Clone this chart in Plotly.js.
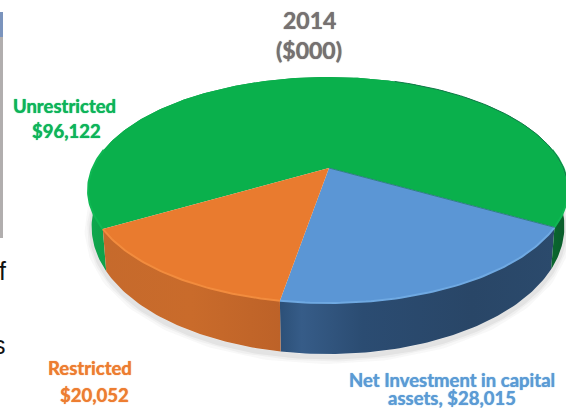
<!DOCTYPE html>
<html><head><meta charset="utf-8">
<script src="https://cdn.plot.ly/plotly-3.0.1.min.js"></script>
<style>html,body{margin:0;padding:0;background:#fff;overflow:hidden}</style>
</head><body><div id="chart" style="width:566px;height:408px"></div>
<script>
// Data
const categories = ["Net Investment in capital assets", "Unrestricted", "Restricted"];
const values = [28015, 96122, 20052];
const titleLines = ["2014", "($000)"];
// Styling
const topColors = ["#5b96d5", "#0ab04c", "#e97b2f"];
const bevelColors = ["#6fa9e2", "#0fb853", "#f28c3e"];
const labelColors = ["#5b9bd5", "#0db45a", "#ed7d31"];
const rimScales = [
  [[0,"#2c5078"],[0.08,"#365c88"],[0.3,"#2b4c72"],[0.7,"#294667"],[1,"#2b4a6c"]],
  [[0,"#10a84e"],[0.04,"#0da049"],[0.9,"#0b8a3e"],[0.96,"#0a6a30"],[1,"#0a5a2a"]],
  [[0,"#c66a2c"],[0.5,"#c96b2b"],[1,"#bd6228"]]
];
const startDeg = -9.5;

// Perspective view of the pie disc
const C = -0.1947, APEX_X = 328, APEX_Y = 168, R = 235.4, A = 76;
function topPt(th){const x=Math.sin(th),y=Math.cos(th),w=1+C*y;return [APEX_X+R*x/w,(A*y+APEX_Y)/w,y];}
function bottomPt(th){const p=topPt(th);return [APEX_X+(p[0]-APEX_X)*0.985,p[1]+33+18*p[2]];}
function arc(fn,a,b){const n=Math.max(2,Math.ceil(Math.abs(b-a)*180/Math.PI)),xs=[],ys=[];
  for(let i=0;i<=n;i++){const p=fn(a+(b-a)*i/n);xs.push(p[0]);ys.push(p[1]);}return [xs,ys];}
const total = values.reduce((s,v)=>s+v,0);
const rad = Math.PI/180;
const spans=[];let acc=startDeg*rad;
values.forEach(v=>{const e=acc+v/total*2*Math.PI;spans.push([acc,e]);acc=e;});

const traces=[];
// soft drop shadow
[[14,0.035],[9,0.05],[5,0.07]].forEach(s=>{
  const [xs,ys]=arc(bottomPt,-100*rad,100*rad);
  traces.push({type:"scatter",mode:"lines",x:xs,y:ys.map(v=>v+3),hoverinfo:"skip",showlegend:false,
    line:{color:"rgba(70,70,70,"+s[1]+")",width:s[0]}});
});
// rims
values.forEach((v,i)=>{
  const [a,b]=spans[i];
  const t=arc(topPt,a,b),u=arc(bottomPt,b,a);
  traces.push({type:"scatter",mode:"lines",x:t[0].concat(u[0]),y:t[1].concat(u[1]),fill:"toself",
    line:{width:0},hoverinfo:"skip",showlegend:false,
    fillgradient:{type:"horizontal",colorscale:rimScales[i]}});
});
// top faces
values.forEach((v,i)=>{
  const [a,b]=spans[i];
  const t=arc(topPt,a,b);
  traces.push({type:"scatter",mode:"lines",x:[APEX_X+1].concat(t[0],[APEX_X+1]),y:[APEX_Y].concat(t[1],[APEX_Y]),
    fill:"toself",fillcolor:topColors[i],line:{width:0,color:topColors[i]},name:categories[i],
    text:categories[i]+": $"+v.toLocaleString("en-US"),hoverinfo:"text",showlegend:false});
});
// bevel highlight along the front edge
values.forEach((v,i)=>{
  const [a,b]=spans[i];
  const pieces=i===1?[[a,100*rad],[260*rad,b]]:[[a,b]];
  pieces.forEach(p=>{
    const t=arc(topPt,p[0],p[1]);
    traces.push({type:"scatter",mode:"lines",x:t[0],y:t[1],hoverinfo:"skip",showlegend:false,
      line:{color:bevelColors[i],width:2}});
  });
});
// thin dark edges: blue/green boundary and the far right rim of the green face
const edgeEnd=topPt(spans[0][1]);
traces.push({type:"scatter",mode:"lines",x:[APEX_X+1,edgeEnd[0]],y:[APEX_Y,edgeEnd[1]],hoverinfo:"skip",showlegend:false,
  line:{color:"#2f7d86",width:1}});
const farEdge=arc(topPt,spans[1][0]+25*rad,spans[1][0]+100*rad);
traces.push({type:"scatter",mode:"lines",x:farEdge[0],y:farEdge[1],hoverinfo:"skip",showlegend:false,
  line:{color:"#137a4a",width:1}});

const fmt=v=>"$"+v.toLocaleString("en-US");
const ann=(x,y,text,color,size)=>({xref:"x",yref:"y",x:x,y:y,text:"<b>"+text+"</b>",showarrow:false,xanchor:"center",yanchor:"middle",
  font:{family:"Lato, sans-serif",size:size,color:color,shadow:"0 0 1px "+color}});
const annotations=[
  ann(64,106,categories[1],labelColors[1],18.5),
  ann(66,131,fmt(values[1]),labelColors[1],18.5),
  ann(90,368,categories[2],labelColors[2],18.5),
  ann(94,395,fmt(values[2]),labelColors[2],18.5),
  ann(452,380,"Net Investment in capital",labelColors[0],18.5),
  ann(452,398,"assets, "+fmt(values[0]),labelColors[0],18.5),
  ann(309,20,titleLines[0],"#767171",23),
  ann(309,50,titleLines[1],"#767171",23),
  {xref:"x",yref:"y",x:8,y:271,xanchor:"right",yanchor:"middle",showarrow:false,text:"f",font:{family:"Liberation Sans",size:25,color:"#111"}},
  {xref:"x",yref:"y",x:8,y:345,xanchor:"right",yanchor:"middle",showarrow:false,text:"s",font:{family:"Liberation Sans",size:25,color:"#111"}}
];
const shapes=[
  {type:"rect",xref:"x",yref:"y",x0:0,x1:3,y0:12,y1:37,fillcolor:"#7b94bd",line:{width:0},layer:"below"},
  {type:"rect",xref:"x",yref:"y",x0:0,x1:3,y0:37,y1:238,fillcolor:"#b1aeae",line:{width:0},layer:"below"}
];
Plotly.newPlot("chart",traces,{
  width:566,height:408,margin:{l:0,r:0,t:0,b:0},
  paper_bgcolor:"#fff",plot_bgcolor:"#fff",showlegend:false,
  xaxis:{range:[0,566],visible:false,fixedrange:true},
  yaxis:{range:[408,0],visible:false,fixedrange:true},
  annotations:annotations,shapes:shapes
},{displayModeBar:false,staticPlot:true});
</script></body></html>
